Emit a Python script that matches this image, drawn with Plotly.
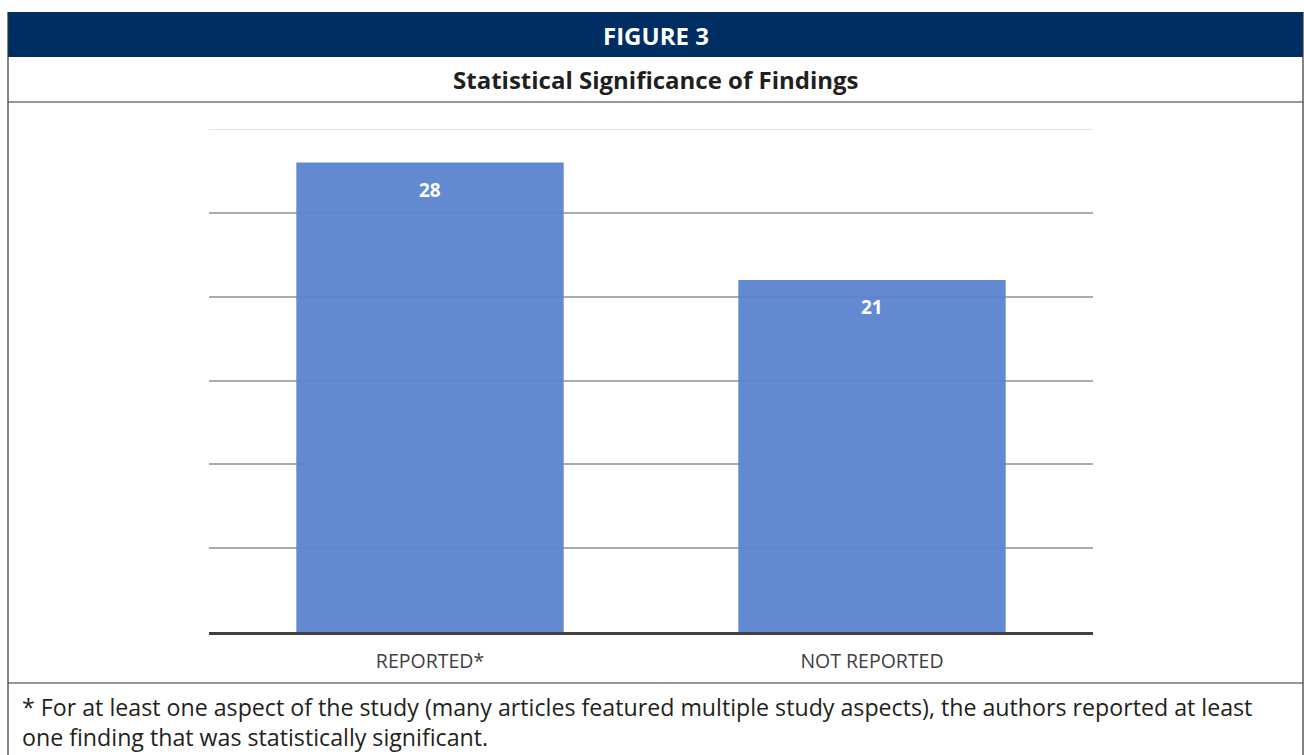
import plotly.graph_objects as go

categories = ["REPORTED*", "NOT REPORTED"]
values = [28, 21]
y_ticks = [0, 5, 10, 15, 20, 25]
y_max = 30

title_text = "FIGURE 3"
subtitle_text = "Statistical Significance of Findings"
footnote_text = ("* For at least one aspect of the study (many articles featured multiple study aspects), the authors reported at least<br>"
                 "one finding that was statistically significant.")

W, H = 1304, 755
def px(x):
    return x / W
def py(y):
    return 1 - y / H

fig = go.Figure()
fig.add_trace(go.Bar(
    x=categories, y=values,
    marker=dict(color="#5b83cd", opacity=0.95, line=dict(width=0)),
    width=0.605, hoverinfo="skip",
))

for c, v in zip(categories, values):
    fig.add_annotation(x=c, y=v, xref="x", yref="y", text=f"<b>{v}</b>",
                       showarrow=False, yshift=-27,
                       font=dict(family="Open Sans", size=19, color="white"))

fig.update_layout(
    width=W, height=H,
    margin=dict(l=0, r=0, t=0, b=0),
    paper_bgcolor="white", plot_bgcolor="white",
    showlegend=False,
    xaxis=dict(domain=[px(209), px(1093)], showgrid=False,
               showline=True, linecolor="#404040", linewidth=3,
               ticks="", ticklabelstandoff=10,
               tickfont=dict(family="Open Sans", size=19.5, color="#404040")),
    yaxis=dict(domain=[py(632), py(129)], range=[0, y_max], tickvals=y_ticks,
               showticklabels=False, showgrid=True, gridcolor="#ababab",
               gridwidth=1.5, zeroline=False),
)

shapes = [
    dict(type="line", xref="x domain", yref="y", x0=0, x1=1, y0=y_max, y1=y_max,
         line=dict(color="#dadada", width=1.5), layer="below"),
    dict(type="rect", xref="paper", yref="paper", x0=px(8), x1=px(1303), y0=py(57), y1=py(12),
         fillcolor="#002d62", line=dict(width=0), layer="below"),
    dict(type="line", xref="paper", yref="paper", x0=px(8), x1=px(8), y0=py(12), y1=0,
         line=dict(color="#333333", width=1.2)),
    dict(type="line", xref="paper", yref="paper", x0=px(1303), x1=px(1303), y0=py(12), y1=0,
         line=dict(color="#333333", width=1.2)),
    dict(type="line", xref="paper", yref="paper", x0=px(8), x1=px(1303), y0=py(102), y1=py(102),
         line=dict(color="#333333", width=1.2)),
    dict(type="line", xref="paper", yref="paper", x0=px(8), x1=px(1303), y0=py(683), y1=py(683),
         line=dict(color="#333333", width=1.2)),
]
fig.update_layout(shapes=shapes)

fig.add_annotation(xref="paper", yref="paper", x=px(656), y=py(35), text=f"<b>{title_text}</b>",
                   showarrow=False, xanchor="center", yanchor="middle",
                   font=dict(family="Open Sans", size=24, color="white"))
fig.add_annotation(xref="paper", yref="paper", x=px(656), y=py(80), text=f"<b>{subtitle_text}</b>",
                   showarrow=False, xanchor="center", yanchor="middle",
                   font=dict(family="Open Sans", size=24, color="#231f20"))
fig.add_annotation(xref="paper", yref="paper", x=px(20), y=py(722), text=footnote_text,
                   showarrow=False, xanchor="left", yanchor="middle", align="left",
                   font=dict(family="Open Sans", size=23.2, color="#231f20"))

fig.write_html("out.html")
